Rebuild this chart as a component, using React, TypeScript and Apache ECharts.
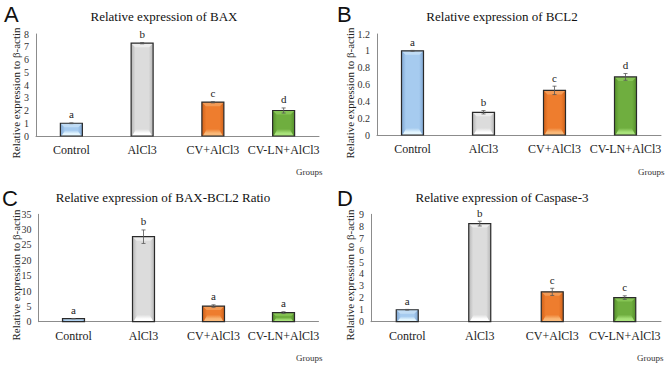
import React, { useEffect, useRef } from "react";
import * as echarts from "echarts";

const categories = ["Control", "AlCl3", "CV+AlCl3", "CV-LN+AlCl3"];

const baxValues = [1.0, 7.28, 2.65, 2.0];
const baxErrors = [0.03, 0.05, 0.05, 0.2];
const baxLetters = ["a", "b", "c", "d"];

const bcl2Values = [1.0, 0.27, 0.53, 0.69];
const bcl2Errors = [0.005, 0.02, 0.05, 0.04];
const bcl2Letters = ["a", "b", "c", "d"];

const ratioValues = [1.0, 27.7, 5.1, 2.95];
const ratioErrors = [0.05, 2.2, 0.4, 0.3];
const ratioLetters = ["a", "b", "a", "a"];

const casp3Values = [1.0, 8.22, 2.5, 2.02];
const casp3Errors = [0.03, 0.2, 0.3, 0.15];
const casp3Letters = ["a", "b", "c", "c"];

const titles = [
  "Relative expression of BAX",
  "Relative expression of BCL2",
  "Relative expression of BAX-BCL2 Ratio",
  "Relative expression of Caspase-3",
];
const panelLetters = ["A", "B", "C", "D"];
const yMax = [8, 1.2, 35, 9];
const yInterval = [1, 0.2, 5, 1];
const yAxisTitle = "Relative expression to β-actin";
const xAxisTitle = "Groups";

const SERIF = "'Liberation Serif', 'DejaVu Serif', serif";
const SANS = "'Liberation Sans', Arial, sans-serif";

// base, side(dark), bottom(light), top(light)
const barColors = [
  { base: "#a6cbef", side: "#7fa6d2", bottom: "#e4f6ff", top: "#c0dcf5" },
  { base: "#dcdcdc", side: "#b5b5b5", bottom: "#ffffff", top: "#ececec" },
  { base: "#ee7d2e", side: "#d0621a", bottom: "#f9b878", top: "#f39a55" },
  { base: "#6fae3f", side: "#55902b", bottom: "#a8e27a", top: "#86c455" },
];

const grids = [
  { left: 36, top: 34, width: 283, height: 102 },
  { left: 377, top: 34, width: 284, height: 101 },
  { left: 38.5, top: 214.3, width: 280, height: 107.4 },
  { left: 371, top: 214.3, width: 290, height: 107.4 },
];

const panels = [
  { values: baxValues, errors: baxErrors, letters: baxLetters },
  { values: bcl2Values, errors: bcl2Errors, letters: bcl2Letters },
  { values: ratioValues, errors: ratioErrors, letters: ratioLetters },
  { values: casp3Values, errors: casp3Errors, letters: casp3Letters },
];

function txt(size: number, family: string) {
  return { fontFamily: family, fontSize: size, font: `${size}px ${family}` };
}

function makeRenderItem(p: { values: number[]; errors: number[]; letters: string[] }) {
  return (params: any, api: any) => {
    const idx = params.dataIndex;
    const v = api.value(1);
    const e = p.errors[idx];
    const base = api.coord([idx, 0]);
    const top = api.coord([idx, v]);
    const w = 22;
    const cx = base[0];
    const x = cx - w / 2;
    const y = top[1];
    const h = base[1] - top[1];
    const c = barColors[idx];
    const b = Math.min(4, h / 3);
    const bh = Math.min(7, h / 2.2);
    const eTop = api.coord([idx, v + e])[1];
    const eBot = api.coord([idx, v - e])[1];
    const children: any[] = [
      {
        type: "rect",
        shape: { x, y, width: w, height: h },
        style: {
          fill: new echarts.graphic.LinearGradient(0, 0, 1, 0, [
            { offset: 0, color: c.side },
            { offset: 0.2, color: c.base },
            { offset: 0.8, color: c.base },
            { offset: 1, color: c.side },
          ]),
        },
      },
      {
        type: "polygon",
        shape: {
          points: [
            [x, y],
            [x + w, y],
            [x + w - b, y + b],
            [x + b, y + b],
          ],
        },
        style: { fill: c.top },
      },
      {
        type: "polygon",
        shape: {
          points: [
            [x + 1, y + h],
            [x + b + 1, y + h - bh],
            [x + w - b - 1, y + h - bh],
            [x + w - 1, y + h],
          ],
        },
        style: {
          fill: new echarts.graphic.LinearGradient(0, 0, 0, 1, [
            { offset: 0, color: c.base },
            { offset: 0.6, color: c.bottom },
            { offset: 1, color: c.bottom },
          ]),
        },
      },
      {
        type: "rect",
        shape: { x, y, width: w, height: h },
        style: { fill: "none", stroke: "#2a2a2a", lineWidth: 1.2 },
      },
      {
        type: "line",
        shape: { x1: cx, y1: eTop, x2: cx, y2: eBot },
        style: { stroke: "#555", lineWidth: 0.8 },
      },
      {
        type: "line",
        shape: { x1: cx - 2, y1: eTop, x2: cx + 2, y2: eTop },
        style: { stroke: "#555", lineWidth: 0.8 },
      },
      {
        type: "line",
        shape: { x1: cx - 2, y1: eBot, x2: cx + 2, y2: eBot },
        style: { stroke: "#555", lineWidth: 0.8 },
      },
      {
        type: "text",
        style: {
          text: p.letters[idx],
          x: cx,
          y: eTop - 3,
          textAlign: "center",
          textVerticalAlign: "bottom",
          ...txt(11, SERIF),
          fill: "#222",
        },
      },
    ];
    return { type: "group", children };
  };
}

export default function App() {
  const ref = useRef<HTMLDivElement>(null);
  useEffect(() => {
    if (!ref.current) return;
    const chart = echarts.init(ref.current, null, { renderer: "svg" });
    const titleCenters = [
      [164, 16],
      [502, 16],
      [163, 197],
      [502, 197],
    ];
    const letterPos = [
      [4, 3],
      [337, 3],
      [2, 187],
      [337, 187],
    ];
    const yNamePos = [
      [16, 93],
      [350, 93],
      [16, 275],
      [350, 275],
    ];
    const groupsPos = [
      [296, 172],
      [638, 172],
      [296, 358],
      [637, 358],
    ];
    const graphic: any[] = [];
    for (let i = 0; i < 4; i++) {
      graphic.push({
        type: "text",
        x: titleCenters[i][0],
        y: titleCenters[i][1],
        style: {
          text: titles[i],
          textAlign: "center",
          textVerticalAlign: "middle",
          ...txt(13, SERIF),
          fill: "#111",
        },
      });
      graphic.push({
        type: "text",
        x: letterPos[i][0],
        y: letterPos[i][1],
        style: {
          text: panelLetters[i],
          ...txt(22, SANS),
          fill: "#111",
        },
      });
      graphic.push({
        type: "text",
        x: yNamePos[i][0],
        y: yNamePos[i][1],
        rotation: Math.PI / 2,
        style: {
          text: yAxisTitle,
          textAlign: "center",
          textVerticalAlign: "middle",
          ...txt(11, SERIF),
          fill: "#222",
        },
      });
      graphic.push({
        type: "text",
        x: groupsPos[i][0],
        y: groupsPos[i][1],
        style: {
          text: xAxisTitle,
          textVerticalAlign: "middle",
          ...txt(9, SERIF),
          fill: "#333",
        },
      });
    }
    chart.setOption({
      animation: false,
      backgroundColor: "#fff",
      grid: grids.map((g) => ({ ...g, containLabel: false })),
      xAxis: grids.map((_, i) => ({
        type: "category",
        gridIndex: i,
        data: categories,
        axisLine: { lineStyle: { color: "#8c8c8c", width: 1 } },
        axisTick: { show: false },
        axisLabel: {
          fontFamily: SERIF,
          fontSize: 12,
          color: "#222",
          margin: 8,
          interval: 0,
        },
      })),
      yAxis: grids.map((_, i) => ({
        type: "value",
        gridIndex: i,
        min: 0,
        max: yMax[i],
        interval: yInterval[i],
        axisLine: { show: true, lineStyle: { color: "#8c8c8c", width: 1 } },
        axisTick: { show: false },
        splitLine: { show: false },
        axisLabel: {
          fontFamily: SERIF,
          fontSize: 10,
          color: "#333",
          margin: 7,
        },
      })),
      series: panels.map((p, i) => ({
        type: "custom",
        xAxisIndex: i,
        yAxisIndex: i,
        data: p.values.map((v, k) => [k, v]),
        encode: { x: 0, y: 1 },
        renderItem: makeRenderItem(p),
        clip: false,
      })),
      graphic,
    });
    return () => chart.dispose();
  }, []);
  return (
    <div
      ref={ref}
      style={{ position: "fixed", left: 0, top: 0, width: 669, height: 369 }}
    />
  );
}
